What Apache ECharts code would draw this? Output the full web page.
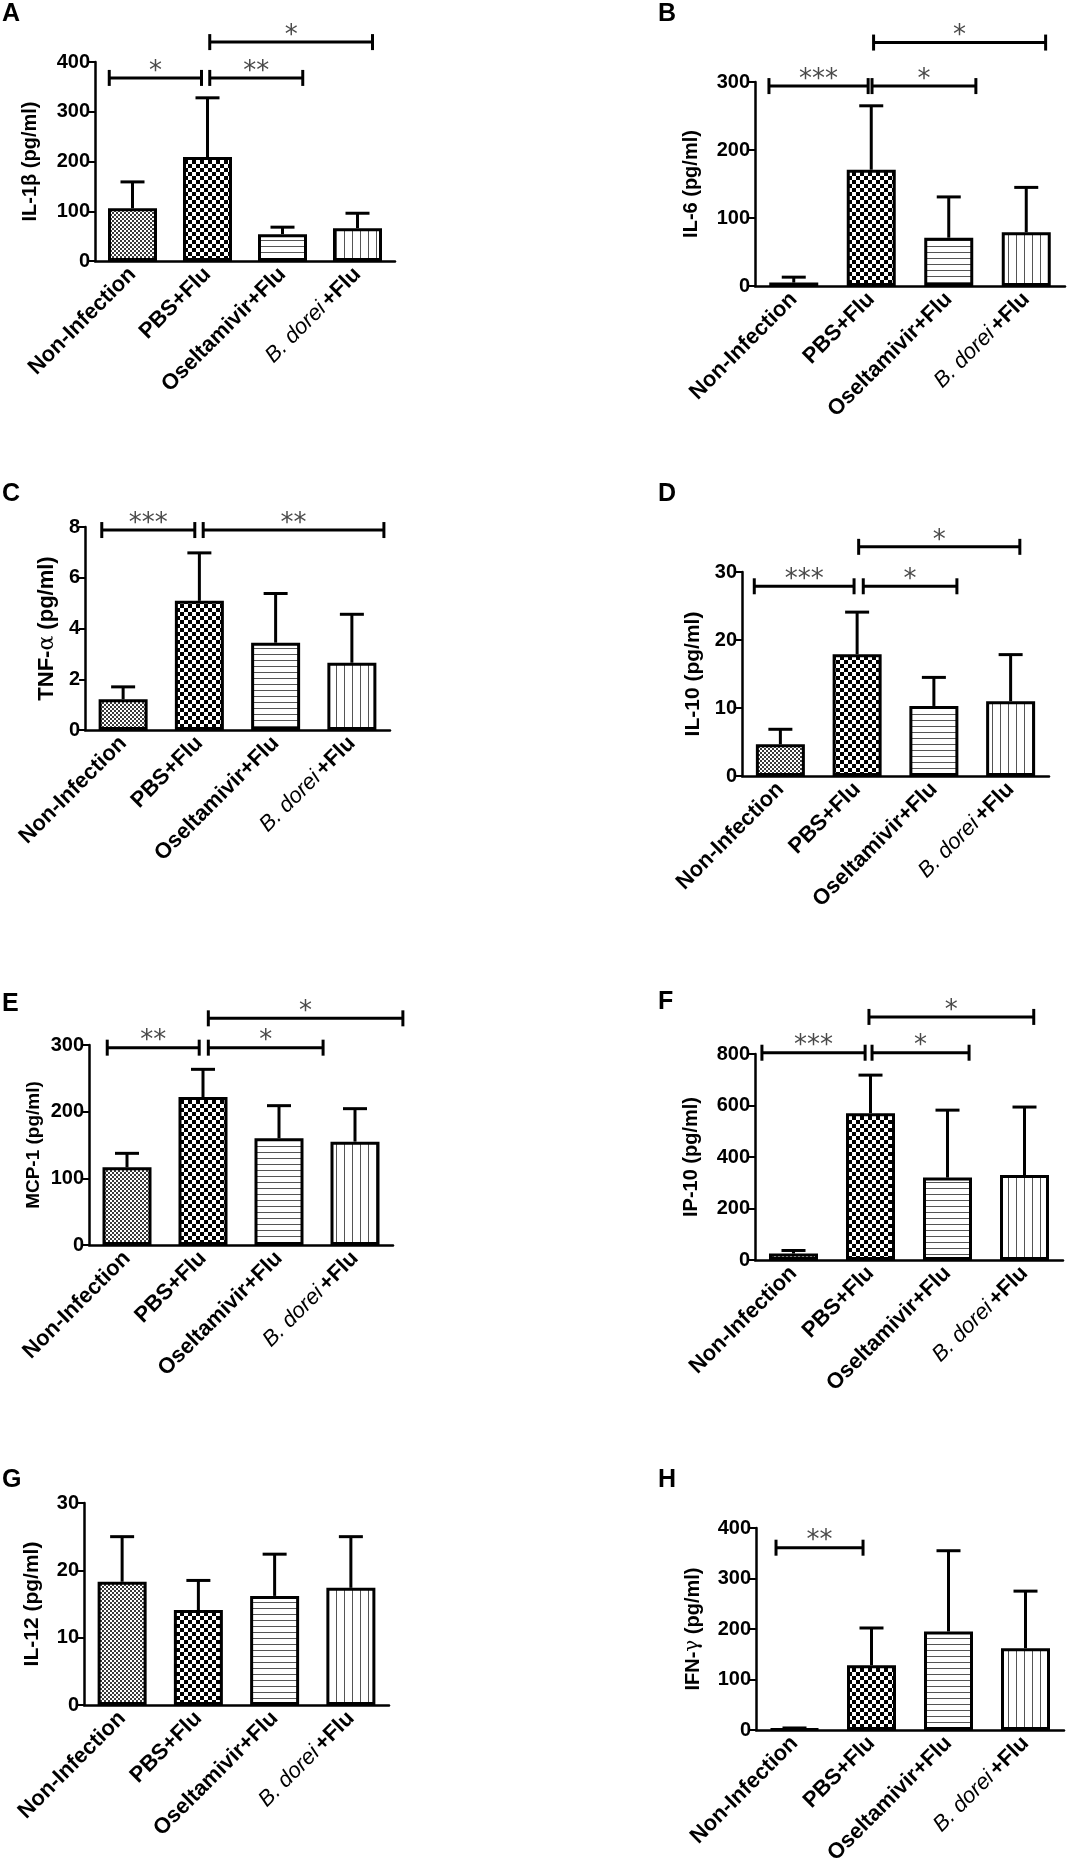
<!DOCTYPE html>
<html>
<head>
<meta charset="utf-8">
<script src="https://cdn.jsdelivr.net/npm/echarts@6/dist/echarts.min.js"></script>
<style>
html,body{margin:0;padding:0;background:#fff;}
#main{width:1070px;height:1874px;}
</style>
</head>
<body>
<div id="main"></div>
<script>
var groups = ['Non-Infection', 'PBS+Flu', 'Oseltamivir+Flu', 'B. dorei +Flu'];

// A  IL-1β
var il1bMean = [106, 209, 54, 66];
var il1bSd = [53, 119, 14, 30];
// significance bars: [from, to (category units), level, stars]
var il1bSig = [[-0.31, 0.92, 368, '*'], [1.03, 2.27, 368, '**'], [1.03, 3.2, 440, '*']];

// B  IL-6
var il6Mean = [5, 171, 71, 79];
var il6Sd = [8, 94, 60, 66];
var il6Sig = [[-0.32, 0.96, 294, '***'], [1.01, 2.35, 294, '*'], [1.03, 3.25, 358, '*']];

// C  TNF-α
var tnfMean = [1.21, 5.09, 3.44, 2.65];
var tnfSd = [0.49, 1.89, 1.94, 1.91];
var tnfSig = [[-0.28, 0.94, 7.88, '***'], [1.05, 3.42, 7.88, '**']];

// D  IL-10
var il10Mean = [4.66, 17.9, 10.3, 11.0];
var il10Sd = [2.21, 6.2, 4.2, 6.85];
var il10Sig = [[-0.34, 0.96, 27.9, '***'], [1.08, 2.3, 27.9, '*'], [1.02, 3.12, 33.7, '*']];

// E  MCP-1
var mcpMean = [116.5, 222, 160, 155];
var mcpSd = [21, 41.5, 49, 49.5];
var mcpSig = [[-0.26, 0.95, 296, '**'], [1.07, 2.58, 296, '*'], [1.07, 3.63, 340, '*']];

// F  IP-10
var ip10Mean = [25, 570, 320, 330];
var ip10Sd = [12, 148, 262, 264];
var ip10Sig = [[-0.41, 0.93, 805, '***'], [1.02, 2.28, 805, '*'], [0.98, 3.12, 944, '*']];

// G  IL-12
var il12Mean = [18.3, 14.1, 16.2, 17.4];
var il12Sd = [6.7, 4.4, 6.2, 7.6];
var il12Sig = [];

// H  IFN-γ
var ifnMean = [2, 128, 195, 162];
var ifnSd = [2, 74, 160, 113];
var ifnSig = [[-0.24, 0.89, 361, '**']];

var FONT = '"Liberation Sans", Arial, sans-serif';

// hatch fills drawn on small canvases
function makePattern(kind) {
	var c = document.createElement('canvas');
	var ctx = c.getContext('2d');
	if (kind == 'fine') {
		c.width = 4; c.height = 4;
		ctx.fillStyle = '#fff'; ctx.fillRect(0, 0, 4, 4);
		ctx.fillStyle = '#3a3a3a';
		ctx.fillRect(0, 0, 2, 2); ctx.fillRect(2, 2, 2, 2);
	} else if (kind == 'check') {
		c.width = 8; c.height = 8;
		ctx.fillStyle = '#fff'; ctx.fillRect(0, 0, 8, 8);
		ctx.fillStyle = '#000';
		ctx.fillRect(0, 0, 4, 4); ctx.fillRect(4, 4, 4, 4);
	} else if (kind == 'hline') {
		c.width = 6; c.height = 6;
		ctx.fillStyle = '#fff'; ctx.fillRect(0, 0, 6, 6);
		ctx.fillStyle = '#555'; ctx.fillRect(0, 0, 6, 1);
	} else {
		c.width = 8; c.height = 8;
		ctx.fillStyle = '#fff'; ctx.fillRect(0, 0, 8, 8);
		ctx.fillStyle = '#555'; ctx.fillRect(0, 0, 1, 8);
	}
	return {image: c, repeat: 'repeat'};
}
var patterns = [makePattern('fine'), makePattern('check'), makePattern('hline'), makePattern('vline')];

var panels = [
	{letter: 'A', name: 'IL-1β (pg/ml)', mean: il1bMean, sd: il1bSd, sig: il1bSig, max: 400, step: 100,
		grid: {left: 95, top: 62, width: 300, height: 199}, lx: 2, ly: 2, gap: 55, fs: 20},
	{letter: 'B', name: 'IL-6 (pg/ml)', mean: il6Mean, sd: il6Sd, sig: il6Sig, max: 300, step: 100,
		grid: {left: 755, top: 82, width: 310, height: 204}, lx: 658, ly: 2, gap: 54, fs: 20},
	{letter: 'C', name: 'TNF-{g|α} (pg/ml)', mean: tnfMean, sd: tnfSd, sig: tnfSig, max: 8, step: 2,
		grid: {left: 85, top: 527, width: 305, height: 203}, lx: 2, ly: 482, gap: 27, fs: 22},
	{letter: 'D', name: 'IL-10 (pg/ml)', mean: il10Mean, sd: il10Sd, sig: il10Sig, max: 30, step: 10,
		grid: {left: 742, top: 572, width: 307, height: 204}, lx: 658, ly: 482, gap: 38, fs: 21},
	{letter: 'E', name: 'MCP-1 (pg/ml)', mean: mcpMean, sd: mcpSd, sig: mcpSig, max: 300, step: 100,
		grid: {left: 89, top: 1045, width: 304, height: 200}, lx: 2, ly: 992, gap: 46, fs: 19},
	{letter: 'F', name: 'IP-10 (pg/ml)', mean: ip10Mean, sd: ip10Sd, sig: ip10Sig, max: 800, step: 200,
		grid: {left: 755, top: 1054, width: 308, height: 206}, lx: 658, ly: 990, gap: 54, fs: 20},
	{letter: 'G', name: 'IL-12 (pg/ml)', mean: il12Mean, sd: il12Sd, sig: il12Sig, max: 30, step: 10,
		grid: {left: 84, top: 1503, width: 305, height: 202}, lx: 2, ly: 1468, gap: 41, fs: 21},
	{letter: 'H', name: 'IFN-{g|γ} (pg/ml)', mean: ifnMean, sd: ifnSd, sig: ifnSig, max: 400, step: 100,
		grid: {left: 756, top: 1528, width: 308, height: 202}, lx: 658, ly: 1468, gap: 53, fs: 20}
];

function renderErr(params, api) {
	var i = api.value(0);
	var m = api.value(1), s = api.value(2);
	var p0 = api.coord([i, m]);
	var p1 = api.coord([i, m + s]);
	return {
		type: 'group',
		children: [
			{type: 'line', shape: {x1: p0[0], y1: p0[1], x2: p1[0], y2: p1[1]}, style: {stroke: '#000', lineWidth: 3}},
			{type: 'line', shape: {x1: p1[0] - 12, y1: p1[1], x2: p1[0] + 12, y2: p1[1]}, style: {stroke: '#000', lineWidth: 3}}
		]
	};
}

function makeSigRender(sig) {
	return function (params, api) {
		var b = sig[params.dataIndex];
		var c0 = api.coord([0, b[2]]);
		var band = api.size([1, 0])[0];
		var x1 = c0[0] + b[0] * band;
		var x2 = c0[0] + b[1] * band;
		var y = c0[1];
		return {
			type: 'group',
			children: [
				{type: 'line', shape: {x1: x1, y1: y, x2: x2, y2: y}, style: {stroke: '#000', lineWidth: 3}},
				{type: 'line', shape: {x1: x1, y1: y - 8, x2: x1, y2: y + 8}, style: {stroke: '#000', lineWidth: 3}},
				{type: 'line', shape: {x1: x2, y1: y - 8, x2: x2, y2: y + 8}, style: {stroke: '#000', lineWidth: 3}},
				{type: 'text', style: {text: b[3], x: (x1 + x2) / 2, y: y - 6, align: 'center', verticalAlign: 'middle',
					fill: '#4a4a4a', font: '26px "DejaVu Sans"'}}
			]
		};
	};
}

var option = {animation: false, backgroundColor: '#fff', grid: [], xAxis: [], yAxis: [], series: [], graphic: []};

panels.forEach(function (p, k) {
	option.grid.push(p.grid);
	option.xAxis.push({
		type: 'category', gridIndex: k, data: groups,
		axisLine: {lineStyle: {color: '#000', width: 2.5}},
		axisTick: {alignWithLabel: true, length: 6, lineStyle: {color: '#000', width: 2}},
		axisLabel: {
			interval: 0, rotate: 45, margin: 10, color: '#000',
			formatter: function (v) {
				if (v.indexOf('B. dorei') == 0) return '{i|B. dorei} {b|+Flu}';
				return '{b|' + v + '}';
			},
			rich: {
				b: {fontFamily: FONT, fontWeight: 'bold', fontSize: 22, color: '#000'},
				i: {fontFamily: FONT, fontStyle: 'italic', fontSize: 22, color: '#000'}
			}
		}
	});
	option.yAxis.push({
		type: 'value', gridIndex: k, min: 0, max: p.max, interval: p.step,
		name: p.name, nameLocation: 'middle', nameGap: p.gap,
		nameTextStyle: {fontFamily: FONT, fontWeight: 'bold', fontSize: p.fs, color: '#000',
			rich: {g: {fontFamily: '"DejaVu Serif"', fontWeight: 'normal', fontSize: p.fs, color: '#000'}}},
		axisLine: {show: true, lineStyle: {color: '#000', width: 2.5}},
		axisTick: {show: true, length: 6, lineStyle: {color: '#000', width: 2}},
		axisLabel: {fontFamily: FONT, fontWeight: 'bold', fontSize: 20, color: '#000', margin: 5},
		splitLine: {show: false}
	});
	option.series.push({
		type: 'bar', xAxisIndex: k, yAxisIndex: k, barWidth: 49,
		data: p.mean.map(function (v, i) {
			return {value: v, itemStyle: {color: patterns[i], borderColor: '#000', borderWidth: 3}};
		})
	});
	option.series.push({
		type: 'custom', xAxisIndex: k, yAxisIndex: k, z: 3, clip: false,
		renderItem: renderErr, encode: {x: 0, y: 1},
		data: p.mean.map(function (v, i) { return [i, v, p.sd[i]]; })
	});
	if (p.sig.length) {
		option.series.push({
			type: 'custom', xAxisIndex: k, yAxisIndex: k, z: 4, clip: false,
			renderItem: makeSigRender(p.sig), encode: {x: 0, y: 1},
			data: p.sig.map(function (b) { return [0, b[2]]; })
		});
	}
	option.graphic.push({
		type: 'text', left: p.lx, top: p.ly,
		style: {text: p.letter, font: 'bold 25px ' + FONT, fill: '#000'}
	});
});

var myChart = echarts.init(document.getElementById('main'));
myChart.setOption(option);
</script>
</body>
</html>
